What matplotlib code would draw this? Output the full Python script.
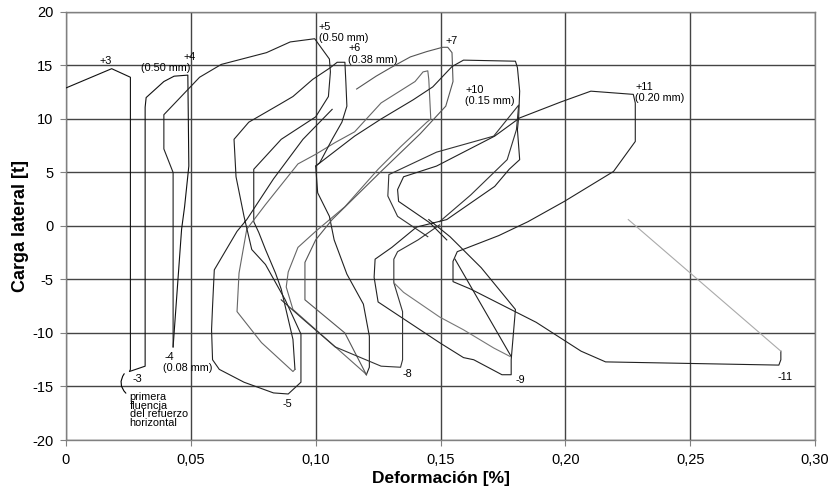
import matplotlib
matplotlib.use('Agg')
import matplotlib.pyplot as plt

plt.rcParams['font.family'] = ['Liberation Sans', 'DejaVu Sans']
plt.rcParams['axes.unicode_minus'] = False

# ---- hysteresis branches: deformation [%] vs lateral load [t] ----
c3_x = [0.0, 0.0183, 0.0258, 0.0258, 0.0254, 0.0317, 0.0317, 0.0321, 0.0392, 0.0433, 0.0488, 0.0492, 0.0475, 0.0463, 0.0429]
c3_y = [12.9, 14.7, 13.9, -13.4, -13.6, -13.1, 11.1, 12.0, 13.5, 14.0, 14.1, 5.6, 1.8, -0.3, -11.3]

c5_x = [0.0429, 0.0429, 0.0392, 0.0392, 0.0535, 0.0622, 0.0803, 0.0898, 0.0996, 0.1055, 0.1059, 0.1051, 0.1000,
        0.0862, 0.0752, 0.0752, 0.0772, 0.0799, 0.0839, 0.0862, 0.0909, 0.0917]
c5_y = [-11.3, 5.0, 7.2, 10.4, 13.9, 15.1, 16.2, 17.2, 17.5, 15.6, 14.4, 12.1, 10.2,
        8.1, 5.3, 0.4, -0.6, -2.2, -4.4, -5.9, -10.6, -13.4]

c5b_x = [0.0917, 0.0909, 0.0783, 0.0685, 0.0693, 0.0724, 0.0799, 0.0929, 0.1000, 0.1078, 0.1156, 0.1262, 0.1398,
         0.1430, 0.1449, 0.1453, 0.1461, 0.1445, 0.1340, 0.1250, 0.1117, 0.1000, 0.0929, 0.0890, 0.0882, 0.0909,
         0.1195, 0.1203]
c5b_y = [-13.4, -13.6, -10.9, -8.0, -4.4, -0.3, 2.0, 5.8, 6.7, 7.8, 8.8, 11.5, 13.5,
         14.4, 14.5, 13.7, 10.0, 9.7, 7.4, 5.3, 1.8, -0.5, -2.0, -4.3, -5.7, -7.8,
         -13.7, -13.9]

c6_x = [0.1066, 0.0949, 0.0831, 0.0724, 0.0685, 0.0594, 0.0587, 0.0583, 0.0587, 0.0614, 0.0713, 0.0831, 0.0890,
        0.0941, 0.0941, 0.0878, 0.0799, 0.0744, 0.0713, 0.0681, 0.0673, 0.0732, 0.0858, 0.0909, 0.0988, 0.1059,
        0.1086, 0.1117, 0.1121, 0.1125, 0.1105, 0.1066, 0.1016, 0.1000, 0.1008, 0.1055, 0.1074, 0.1125, 0.1191,
        0.1215, 0.1215, 0.1203]
c6_y = [10.9, 8.1, 4.4, 0.6, -0.5, -4.1, -7.5, -9.7, -12.5, -13.4, -14.6, -15.6, -15.7,
        -14.6, -10.1, -6.9, -3.6, -2.2, 0.9, 4.6, 8.1, 9.7, 11.4, 12.1, 13.7, 14.8,
        15.3, 15.3, 13.4, 11.2, 9.7, 8.1, 5.9, 5.6, 3.1, 0.9, -1.3, -4.5, -7.3,
        -10.3, -13.2, -13.9]

c7_x = [0.1203, 0.1117, 0.0957, 0.0957, 0.1000, 0.1066, 0.1262, 0.1418, 0.1521, 0.1550, 0.1546, 0.1529, 0.1508,
        0.1445, 0.1379, 0.1301, 0.1242, 0.1164]
c7_y = [-13.9, -10.0, -6.9, -3.4, -1.3, 0.6, 5.1, 8.6, 11.2, 13.5, 16.2, 16.7, 16.7,
        16.3, 15.8, 14.8, 14.0, 12.8]

c9_x = [0.1000, 0.1156, 0.1262, 0.1391, 0.1469, 0.1546, 0.1592, 0.1800, 0.1808, 0.1817, 0.1813, 0.1808, 0.1817,
        0.1775, 0.1717, 0.1525, 0.1404, 0.1305, 0.1238, 0.1234, 0.1250, 0.1496, 0.1592, 0.1633, 0.1746, 0.1783,
        0.1783, 0.1800, 0.1758, 0.1663, 0.1538, 0.1453]
c9_y = [5.6, 8.4, 10.0, 11.8, 13.0, 14.9, 15.5, 15.4, 14.8, 12.6, 10.2, 9.0, 6.2,
        5.3, 3.7, 0.6, -0.1, -2.0, -3.1, -4.8, -7.1, -10.9, -12.3, -12.5, -13.9, -13.9,
        -12.5, -7.8, -6.6, -3.9, -1.0, 0.6]

c9b_x = [0.1783, 0.1558]
c9b_y = [-12.2, -3.1]

c8_x = [0.0862, 0.0949, 0.1078, 0.1262, 0.1340, 0.1348, 0.1348, 0.1313, 0.1313, 0.1328, 0.1410, 0.1496]
c8_y = [-6.9, -8.7, -11.3, -13.1, -13.2, -12.5, -8.0, -5.3, -3.1, -2.4, -1.3, 0.1]

c8b_x = [0.1313, 0.1352, 0.1496, 0.1592, 0.1713, 0.1779]
c8b_y = [-5.3, -6.2, -8.5, -9.7, -11.4, -12.2]

c10_x = [0.1449, 0.1328, 0.1289, 0.1293, 0.1484, 0.1713, 0.1813, 0.1804, 0.1767, 0.1621, 0.1496]
c10_y = [-1.0, 0.9, 2.8, 4.8, 6.9, 8.4, 11.3, 9.0, 6.2, 2.9, 0.4]

c11_x = [0.1525, 0.1457, 0.1332, 0.1328, 0.1352, 0.1484, 0.1717, 0.1817, 0.1983, 0.2102, 0.2272, 0.2280, 0.2280,
         0.2193, 0.1996, 0.1850, 0.1733, 0.1567, 0.1550, 0.1550, 0.1621, 0.1883, 0.2063, 0.2161, 0.2855, 0.2863,
         0.2863]
c11_y = [-1.3, 0.3, 2.3, 3.4, 4.6, 5.6, 8.4, 10.1, 11.6, 12.6, 12.3, 11.5, 7.9,
         5.1, 2.3, 0.4, -0.9, -2.4, -3.3, -5.2, -5.9, -9.0, -11.7, -12.7, -13.0, -12.5,
         -11.7]

c11b_x = [0.2863, 0.2252]
c11b_y = [-11.7, 0.6]

# ---- annotations ----
label_text = ['+3', '+4', '(0.50 mm)', '+5', '(0.50 mm)', '+6', '(0.38 mm)', '+7', '+10', '(0.15 mm)',
              '+11', '(0.20 mm)', '-3', '-4', '(0.08 mm)', '-5', '-8', '-9', '-11']
label_x = [0.0135, 0.0470, 0.0300, 0.1010, 0.1012, 0.1130, 0.1128, 0.1520, 0.1602, 0.1598,
           0.2280, 0.2280, 0.0265, 0.0395, 0.0390, 0.0868, 0.1348, 0.1800, 0.2850]
label_y = [15.4, 15.8, 14.8, 18.6, 17.6, 16.6, 15.5, 17.3, 12.7, 11.7,
           13.0, 12.0, -14.3, -12.2, -13.3, -16.6, -13.8, -14.4, -14.1]

note_text = 'primera\nfluencia\ndel refuerzo\nhorizontal'
note_x, note_y = 0.0255, -15.5

x_ticks = [0.0, 0.05, 0.10, 0.15, 0.20, 0.25, 0.30]
x_ticklabels = ['0', '0,05', '0,10', '0,15', '0,20', '0,25', '0,30']
y_ticks = [20, 15, 10, 5, 0, -5, -10, -15, -20]

fig = plt.figure(figsize=(8.3, 4.93), dpi=100)
ax = fig.add_axes([0.0795, 0.1075, 0.9025, 0.8682])

series = [
    (c3_x, c3_y, '#111111'), (c5_x, c5_y, '#222222'), (c5b_x, c5b_y, '#666666'),
    (c6_x, c6_y, '#222222'), (c7_x, c7_y, '#555555'), (c9_x, c9_y, '#222222'),
    (c9b_x, c9b_y, '#222222'), (c8_x, c8_y, '#333333'), (c8b_x, c8b_y, '#777777'),
    (c10_x, c10_y, '#333333'), (c11_x, c11_y, '#222222'), (c11b_x, c11b_y, '#aaaaaa'),
]
for xs, ys, col in series:
    ax.plot(xs, ys, color=col, lw=0.8, zorder=3)

for t, x, y in zip(label_text, label_x, label_y):
    ax.text(x, y, t, fontsize=7.8, ha='left', va='center', zorder=4)

ax.text(note_x, note_y, note_text, fontsize=7.8, ha='left', va='top', linespacing=0.85)
ax.annotate('', xy=(0.0248, -15.8), xytext=(0.0240, -13.6),
            arrowprops=dict(arrowstyle='-', color='black', lw=0.8,
                            connectionstyle='arc3,rad=0.5'))

ax.set_xlim(0, 0.30)
ax.set_ylim(-20, 20)
ax.set_xticks(x_ticks)
ax.set_xticklabels(x_ticklabels)
ax.set_yticks(y_ticks)
ax.grid(True, color='#444444', lw=1.0, zorder=1)
ax.set_axisbelow(True)
for s in ax.spines.values():
    s.set_color('#808080')
    s.set_linewidth(1.0)
ax.tick_params(axis='both', direction='out', length=4, width=0.8, color='#808080',
               labelsize=10.5, pad=5)
ax.set_xlabel('Deformación [%]', fontsize=12.5, fontweight='bold', labelpad=3)
ax.set_ylabel('Carga lateral [t]', fontsize=13, fontweight='bold', labelpad=2)

fig.savefig('out.png', dpi=100)
